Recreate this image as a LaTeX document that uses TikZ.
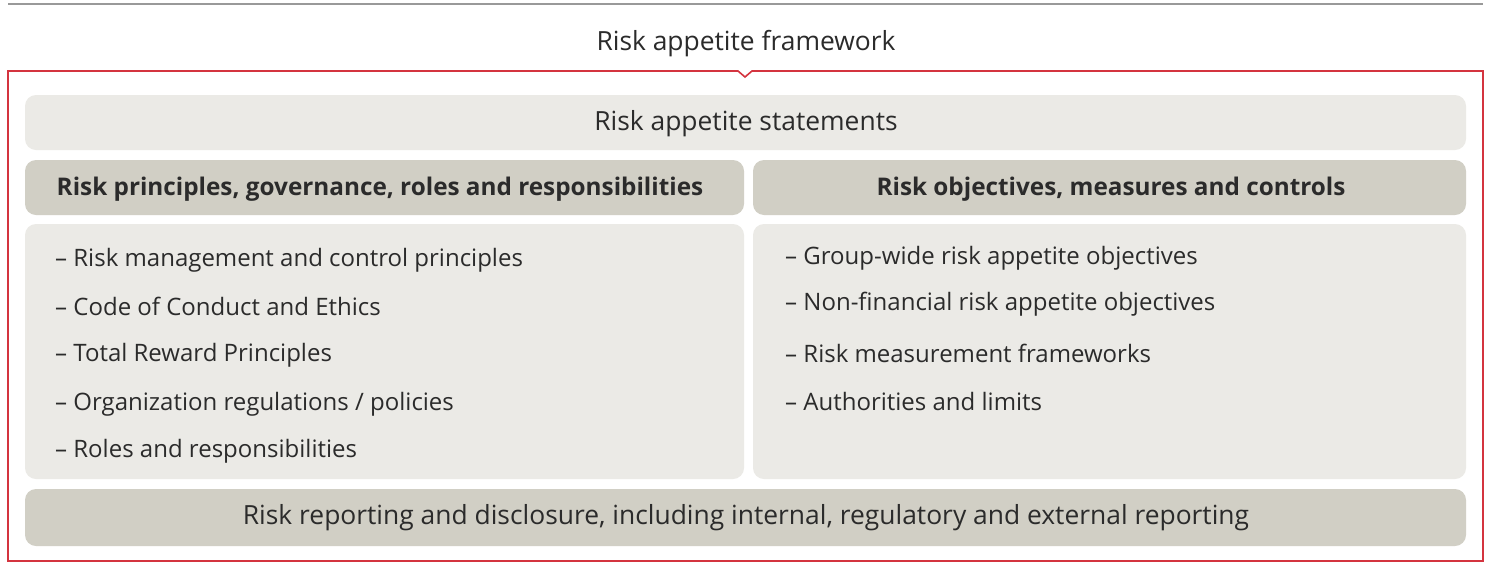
\documentclass[tikz,border=0pt]{standalone}
\usepackage{fontspec}
\setmainfont{Open Sans}
\definecolor{lightbox}{HTML}{EBEAE6}
\definecolor{darkbox}{HTML}{D1CFC5}
\definecolor{framered}{HTML}{D4343F}
\definecolor{txt}{HTML}{2B2B2B}
\begin{document}
\begin{tikzpicture}[x=1pt,y=-1pt,
  boxbase/.style={rounded corners=11pt, inner sep=0pt},
  lightpanel/.style={boxbase, fill=lightbox},
  darkpanel/.style={boxbase, fill=darkbox},
  plaintxt/.style={text=txt, font=\fontsize{26.4}{30}\selectfont, inner sep=0pt},
  boldtxt/.style={text=txt, font=\fontsize{24.3}{28}\selectfont\bfseries, inner sep=0pt},
  item/.style={text=txt, font=\fontsize{24}{28}\selectfont, inner sep=0pt, anchor=west}
]
\useasboundingbox (0,0) rectangle (1491,563);
\fill[white] (0,0) rectangle (1491,563);
% top rule
\draw[line width=2pt, gray!80] (8,4) -- (1483,4);
% title
\node[plaintxt] (title) at (746,44) {Risk appetite framework};
% red frame with notch
\draw[framered, line width=1.6pt] (8,71) -- (738,71) -- (745,77) -- (752,71) -- (1483,71) -- (1483,561) -- (8,561) -- cycle;
% statements
\path[lightpanel] (25,95) rectangle (1466,150);
\node[plaintxt] (stmt) at (746,124) {Risk appetite statements};
% headers
\path[darkpanel] (25,160) rectangle (744,215);
\node[boldtxt] (hl) at (380,189) {Risk principles, governance, roles and responsibilities};
\path[darkpanel] (753,160) rectangle (1466,215);
\node[boldtxt] (hr) at (1111,189) {Risk objectives, measures and controls};
% content panels
\path[lightpanel] (25,224) rectangle (744,479);
\path[lightpanel] (753,224) rectangle (1466,479);
\node[item] (l1) at (55,260) {– Risk management and control principles};
\node[item] (l2) at (55,306) {– Code of Conduct and Ethics};
\node[item] (l3) at (55,355) {– Total Reward Principles};
\node[item] (l4) at (55,404) {– Organization regulations / policies};
\node[item] (l5) at (55,451) {– Roles and responsibilities};
\node[item] (r1) at (785,258) {– Group-wide risk appetite objectives};
\node[item] (r2) at (785,304) {– Non-financial risk appetite objectives};
\node[item] (r3) at (785,353) {– Risk measurement frameworks};
\node[item] (r4) at (785,401) {– Authorities and limits};
% bottom
\path[darkpanel] (25,489) rectangle (1466,546);
\node[plaintxt] (rep) at (746,518) {Risk reporting and disclosure, including internal, regulatory and external reporting};
\end{tikzpicture}
\end{document}
